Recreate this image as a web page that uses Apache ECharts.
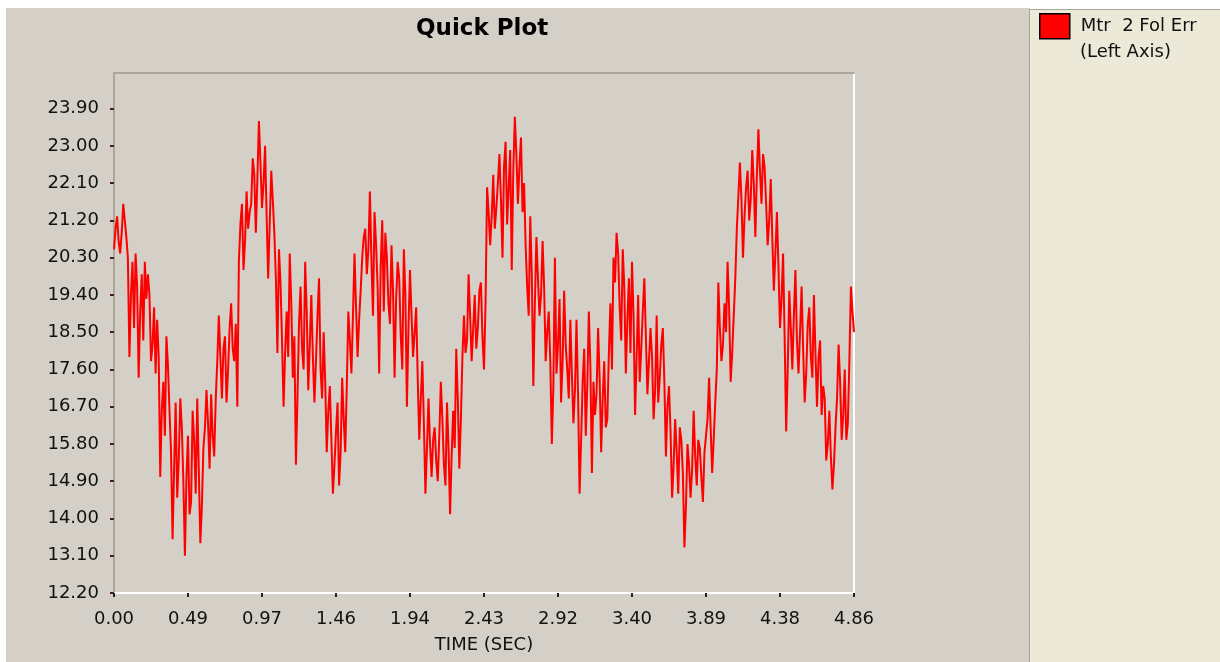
<!DOCTYPE html>
<html>
<head>
<meta charset="utf-8">
<script src="https://cdn.jsdelivr.net/npm/echarts@6/dist/echarts.min.js"></script>
<style>
  html, body { margin: 0; padding: 0; background: #ffffff; }
  #chart { width: 1220px; height: 662px; }
</style>
</head>
<body>
<div id="chart"></div>
<script>
// ---- data ----
const titleText = 'Quick Plot';
const seriesName = 'Mtr  2 Fol Err';
const seriesSubName = '(Left Axis)';
const xAxisName = 'TIME (SEC)';
const xTickLabels = ['0.00', '0.49', '0.97', '1.46', '1.94', '2.43', '2.92', '3.40', '3.89', '4.38', '4.86'];
const yTickValues = [12.2, 13.1, 14.0, 14.9, 15.8, 16.7, 17.6, 18.5, 19.4, 20.3, 21.2, 22.1, 23.0, 23.9];
const yMin = 12.2;
const yMax = 24.76;
// samples between two tick labels
const samplesPerTick = 48;
// Mtr 2 Fol Err values, one per sample, 0.00 .. 4.86 s
const folErr = [
  20.5, 21.0, 21.3, 20.7, 20.4, 20.9, 21.6, 21.2, 20.8, 20.3, 17.9, 19.4, 20.2, 18.6, 20.4, 19.6, 17.4, 19.0, 19.9, 18.3,
  20.2, 19.3, 19.9, 19.4, 17.8, 18.2, 19.1, 17.5, 18.8, 17.9, 15.0, 16.6, 17.3, 16.0, 18.4, 17.7, 16.6, 15.6, 13.5, 15.2,
  16.8, 14.5, 15.4, 16.9, 16.2, 14.9, 13.1, 15.0, 16.0, 14.1, 14.4, 16.6, 15.9, 14.6, 16.9, 15.2, 13.4, 14.3, 15.7, 16.2,
  17.1, 16.3, 15.2, 17.0, 16.0, 15.5, 16.9, 17.8, 18.9, 17.9, 16.9, 18.1, 18.4, 16.8, 17.6, 18.6, 19.2, 18.1, 17.8, 18.7,
  16.7, 20.2, 21.1, 21.6, 20.0, 20.7, 21.9, 21.0, 21.4, 21.6, 22.7, 22.3, 20.9, 22.2, 23.6, 22.6, 21.5, 22.1, 23.0, 21.3,
  19.8, 21.1, 22.4, 21.7, 20.9, 19.8, 18.0, 20.5, 19.7, 18.3, 16.7, 18.0, 19.0, 17.9, 20.4, 19.2, 17.4, 18.4, 15.3, 16.9,
  18.7, 19.6, 18.1, 17.6, 20.2, 19.0, 17.1, 18.2, 19.4, 17.9, 16.8, 17.8, 18.9, 19.8, 17.6, 16.9, 18.5, 17.3, 15.6, 16.6,
  17.2, 15.9, 14.6, 15.3, 16.1, 16.8, 14.8, 15.6, 17.4, 16.4, 15.6, 17.2, 19.0, 18.3, 17.5, 18.9, 20.4, 19.1, 17.9, 18.8,
  19.5, 20.3, 20.8, 21.0, 19.9, 20.5, 21.9, 20.2, 18.9, 21.4, 20.6, 19.6, 17.5, 20.1, 21.2, 19.0, 20.9, 20.3, 19.2, 18.7,
  20.6, 19.5, 17.4, 19.3, 20.2, 19.8, 18.4, 17.6, 20.5, 19.4, 16.7, 18.6, 20.0, 18.9, 17.9, 18.5, 19.1, 17.4, 15.9, 16.9,
  17.8, 16.3, 14.6, 15.7, 16.9, 15.8, 15.0, 15.9, 16.2, 15.4, 14.9, 16.0, 17.3, 16.4, 15.3, 14.8, 16.8, 15.7, 14.1, 15.5,
  16.6, 15.7, 18.1, 16.9, 15.2, 16.4, 17.9, 18.9, 18.0, 18.3, 19.9, 18.9, 17.8, 18.6, 19.4, 18.1, 18.6, 19.5, 19.7, 18.4,
  17.6, 19.2, 22.0, 21.4, 20.6, 21.3, 22.3, 21.0, 21.5, 22.1, 22.8, 21.7, 20.3, 22.5, 23.1, 21.1, 22.0, 22.9, 20.0, 22.4,
  23.7, 22.8, 21.6, 22.5, 23.2, 21.4, 22.1, 20.6, 19.6, 18.9, 21.3, 19.9, 17.2, 19.2, 20.8, 19.8, 18.9, 19.4, 20.7, 19.6,
  17.8, 18.5, 19.0, 17.8, 15.8, 17.2, 20.3, 17.5, 18.2, 19.3, 16.8, 17.8, 19.5, 18.2, 17.6, 16.9, 18.8, 17.5, 16.3, 17.1,
  18.8, 17.0, 14.6, 15.9, 17.3, 18.1, 16.0, 17.2, 19.0, 17.7, 15.1, 17.3, 16.5, 17.0, 18.6, 17.4, 15.6, 16.9, 17.8, 16.2,
  16.4, 18.0, 19.2, 17.6, 20.3, 19.7, 20.9, 20.4, 19.1, 18.3, 20.5, 19.6, 17.5, 18.8, 19.8, 18.0, 20.2, 18.9, 16.5, 17.9,
  19.4, 17.3, 18.1, 19.0, 19.8, 18.4, 17.0, 17.8, 18.6, 17.9, 16.4, 17.1, 18.9, 16.8, 17.4, 18.2, 18.6, 17.3, 15.5, 16.7,
  17.2, 16.1, 14.5, 15.3, 16.4, 15.6, 14.6, 16.2, 15.9, 15.1, 13.3, 14.3, 15.8, 15.3, 14.5, 15.2, 16.6, 15.5, 14.8, 15.9,
  15.7, 15.0, 14.4, 15.6, 16.0, 16.4, 17.4, 16.2, 15.1, 15.9, 16.8, 17.6, 19.7, 18.6, 17.8, 18.2, 19.2, 18.5, 20.2, 19.1,
  17.3, 18.0, 18.9, 19.8, 21.0, 21.8, 22.6, 21.7, 20.3, 21.3, 22.0, 22.4, 21.2, 21.7, 22.9, 22.1, 20.8, 22.3, 23.4, 22.4,
  21.6, 22.8, 22.5, 21.6, 20.6, 21.2, 22.2, 20.8, 19.5, 20.4, 21.4, 20.1, 18.6, 19.3, 20.4, 18.4, 16.1, 17.6, 19.5, 18.6,
  17.6, 18.9, 20.0, 18.3, 17.5, 18.5, 19.6, 18.1, 16.8, 17.5, 18.7, 19.1, 17.9, 17.4, 19.4, 18.0, 16.7, 17.9, 18.3, 16.5,
  17.2, 16.9, 15.4, 15.8, 16.6, 15.5, 14.7, 15.3, 16.2, 16.9, 18.2, 17.3, 15.9, 16.5, 17.6, 15.9, 16.3, 17.8, 19.6, 19.0,
  18.5
];
const sampleIndex = folErr.map((_, i) => i);

// ---- chart ----
const FONT = 'DejaVu Sans';
const chart = echarts.init(document.getElementById('chart'), null, { renderer: 'canvas' });
chart.setOption({
  animation: false,
  backgroundColor: '#ffffff',
  graphic: [
    { type: 'rect', z: -10, silent: true, shape: { x: 6, y: 8, width: 1024, height: 654 }, style: { fill: '#d4d0c8' } },
    { type: 'rect', z: -9, silent: true, shape: { x: 1029.5, y: 9.5, width: 200, height: 660 }, style: { fill: '#ece9d8', stroke: '#a8a498', lineWidth: 1 } },
    { type: 'text', z: 5, silent: true, left: 1080, top: 43,
      style: { text: seriesSubName, font: '18px "DejaVu Sans"', fill: '#111111' } }
  ],
  title: {
    text: titleText,
    left: 416,
    top: 18,
    padding: 0,
    textStyle: {
      fontFamily: FONT, fontSize: 23, fontWeight: 'bold', color: '#000000',
      textShadowColor: '#ffffff', textShadowOffsetX: 1, textShadowOffsetY: 1, textShadowBlur: 0
    }
  },
  legend: {
    left: 1039,
    top: 13,
    padding: 0,
    icon: 'rect',
    itemWidth: 30,
    itemHeight: 25,
    itemStyle: { borderColor: '#000000', borderWidth: 1.5 },
    formatter: () => seriesName,
    textStyle: { fontFamily: FONT, fontSize: 18, color: '#111111', padding: [0, 0, 0, 6] }
  },
  grid: { left: 114, right: 366, top: 73, bottom: 69, show: false },
  xAxis: [
    {
      type: 'category',
      data: sampleIndex,
      boundaryGap: false,
      position: 'bottom',
      name: xAxisName,
      nameLocation: 'middle',
      nameGap: 43,
      nameTextStyle: { fontFamily: FONT, fontSize: 18, color: '#111111' },
      axisLine: { onZero: false, lineStyle: { color: '#ffffff', width: 2 } },
      axisTick: { show: true, interval: samplesPerTick - 1, length: 4, lineStyle: { color: '#222222', width: 2 } },
      axisLabel: {
        interval: samplesPerTick - 1,
        margin: 17,
        fontFamily: FONT, fontSize: 18, color: '#111111',
        formatter: (v, idx) => xTickLabels[Math.round(idx / samplesPerTick)]
      },
      splitLine: { show: false }
    },
    {
      type: 'category',
      data: sampleIndex,
      boundaryGap: false,
      position: 'top',
      axisLine: { onZero: false, lineStyle: { color: '#aca899', width: 2 } },
      axisTick: { show: false },
      axisLabel: { show: false },
      splitLine: { show: false }
    }
  ],
  yAxis: [
    {
      type: 'value',
      min: yMin,
      max: yMax,
      position: 'left',
      axisLine: { show: true, onZero: false, lineStyle: { color: '#aca899', width: 2 } },
      axisTick: { show: true, customValues: yTickValues, length: 4, lineStyle: { color: '#4a1c1c', width: 2 } },
      axisLabel: {
        customValues: yTickValues,
        margin: 15,
        fontFamily: FONT, fontSize: 18, color: '#111111',
        formatter: v => v.toFixed(2)
      },
      splitLine: { show: false }
    },
    {
      type: 'value',
      min: yMin,
      max: yMax,
      position: 'right',
      axisLine: { show: true, onZero: false, lineStyle: { color: '#ffffff', width: 2 } },
      axisTick: { show: false },
      axisLabel: { show: false },
      splitLine: { show: false }
    }
  ],
  series: [
    {
      name: seriesName,
      type: 'line',
      xAxisIndex: 0,
      yAxisIndex: 0,
      data: folErr,
      step: 'end',
      showSymbol: false,
      symbol: 'none',
      color: '#ff0000',
      lineStyle: { color: '#ff0000', width: 2 }
    }
  ]
});
</script>
</body>
</html>
